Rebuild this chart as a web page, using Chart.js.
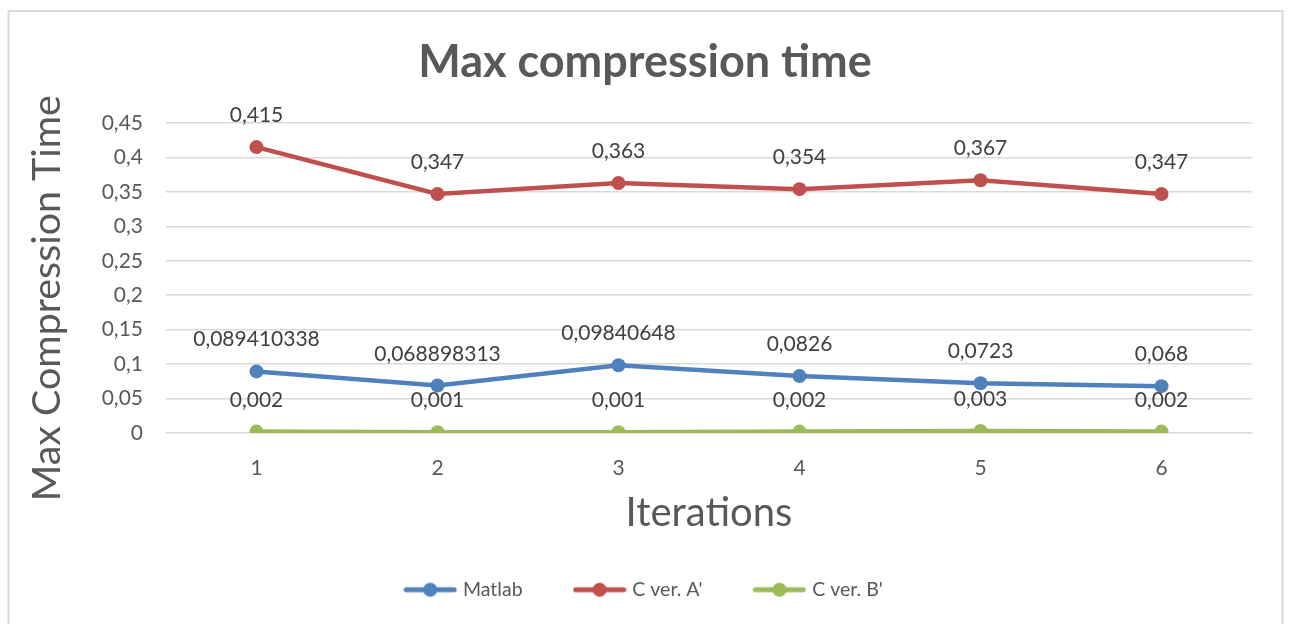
<!DOCTYPE html>
<html>
<head>
<meta charset="utf-8">
<script src="https://cdn.jsdelivr.net/npm/chart.js@4.4.1/dist/chart.umd.min.js"></script>
<style>
  html, body { margin: 0; padding: 0; background: #ffffff; }
  #wrap { position: relative; width: 1290px; height: 624px; }
</style>
</head>
<body>
<div id="wrap"><canvas id="chart" width="1290" height="624"></canvas></div>
<script>
// Iteration numbers on the x axis
const iterations = ['1', '2', '3', '4', '5', '6'];

// Max compression time per iteration, per implementation
const matlabTimes = [0.089410338, 0.068898313, 0.09840648, 0.0826, 0.0723, 0.068];
const cVerATimes  = [0.415, 0.347, 0.363, 0.354, 0.367, 0.347];
const cVerBTimes  = [0.002, 0.001, 0.001, 0.002, 0.003, 0.002];

const seriesNames = ['Matlab', "C ver. A'", "C ver. B'"];

// Y axis tick labels (decimal comma)
const yTickLabels = ['0', '0,05', '0,1', '0,15', '0,2', '0,25', '0,3', '0,35', '0,4', '0,45'];

const FONT = 'Lato, "Open Sans", sans-serif';
const COLORS = ['#4f81bd', '#c0504d', '#9bbb59'];

// Legend marker: short line with a dot in the middle
function legendMarker(color) {
  const c = document.createElement('canvas');
  c.width = 54; c.height = 16;
  const g = c.getContext('2d');
  g.strokeStyle = color; g.lineWidth = 5; g.lineCap = 'round';
  g.beginPath(); g.moveTo(3, 8); g.lineTo(51, 8); g.stroke();
  g.fillStyle = color;
  g.beginPath(); g.arc(27, 8, 7, 0, Math.PI * 2); g.fill();
  return c;
}
const markers = COLORS.map(legendMarker);

// Outer frame around the chart
const framePlugin = {
  id: 'frame',
  beforeDraw(chart) {
    const ctx = chart.ctx;
    ctx.save();
    ctx.strokeStyle = '#d9d9d9';
    ctx.lineWidth = 2;
    ctx.strokeRect(8.5, 11, 1274, 700);
    ctx.restore();
  }
};

// Value labels above each point
const valueLabels = {
  id: 'valueLabels',
  afterDatasetsDraw(chart) {
    const ctx = chart.ctx;
    ctx.save();
    ctx.font = '21px ' + FONT;
    ctx.fillStyle = '#404040';
    ctx.textAlign = 'center';
    ctx.textBaseline = 'alphabetic';
    chart.data.datasets.forEach((ds, di) => {
      const meta = chart.getDatasetMeta(di);
      meta.data.forEach((pt, i) => {
        const txt = String(ds.data[i]).replace('.', ',');
        ctx.fillText(txt, pt.x, pt.y - 25);
      });
    });
    ctx.restore();
  }
};

function makeSet(label, data, color) {
  return {
    label, data,
    borderColor: color,
    backgroundColor: color,
    borderWidth: 4.5,
    pointRadius: 7,
    pointHoverRadius: 7,
    pointBorderWidth: 0,
    pointBackgroundColor: color,
    tension: 0
  };
}

new Chart(document.getElementById('chart'), {
  type: 'line',
  data: {
    labels: iterations,
    datasets: [
      makeSet(seriesNames[0], matlabTimes, COLORS[0]),
      makeSet(seriesNames[1], cVerATimes, COLORS[1]),
      makeSet(seriesNames[2], cVerBTimes, COLORS[2])
    ]
  },
  options: {
    responsive: false,
    animation: false,
    layout: { padding: { left: 0, right: 0, top: 0, bottom: 14.5 } },
    plugins: {
      tooltip: { enabled: false },
      title: {
        display: true,
        text: 'Max compression time',
        color: '#595959',
        font: { family: FONT, size: 45, weight: 'bold', lineHeight: 1.2 },
        padding: { top: 35.2, bottom: 33.8 }
      },
      legend: {
        position: 'bottom',
        labels: {
          usePointStyle: true,
          pointStyleWidth: 46,
          padding: 54,
          color: '#595959',
          font: { family: FONT, size: 19.5 },
          generateLabels(chart) {
            return Chart.defaults.plugins.legend.labels.generateLabels(chart)
              .map((l, i) => Object.assign(l, { pointStyle: markers[i] }));
          }
        }
      }
    },
    scales: {
      x: {
        offset: true,
        grid: { display: false, drawTicks: false },
        border: { display: false },
        ticks: { color: '#595959', font: { family: FONT, size: 21 }, padding: 23 },
        title: {
          display: true,
          text: 'Iterations',
          color: '#595959',
          font: { family: FONT, size: 40, lineHeight: 1.2 },
          padding: { top: 0, bottom: -11 }
        },
        afterFit(s) { s.height = 93; }
      },
      y: {
        min: 0, max: 0.45,
        grid: { color: '#d9d9d9', lineWidth: 1.5, drawTicks: false },
        border: { display: false },
        ticks: {
          stepSize: 0.05,
          padding: 23,
          color: '#595959',
          font: { family: FONT, size: 21 },
          callback: (v, i) => yTickLabels[i]
        },
        title: {
          display: true,
          text: 'Max Compression Time    ',
          color: '#595959',
          font: { family: FONT, size: 39.4, lineHeight: 1.2 },
          padding: { top: 23.4, bottom: 0 }
        },
        afterFit(s) { s.width = 166; }
      },
      yRight: {
        position: 'right',
        display: true,
        grid: { display: false, drawTicks: false },
        border: { display: false },
        ticks: { display: false },
        afterFit(s) { s.width = 38; }
      }
    }
  },
  plugins: [framePlugin, valueLabels]
});
</script>
</body>
</html>
